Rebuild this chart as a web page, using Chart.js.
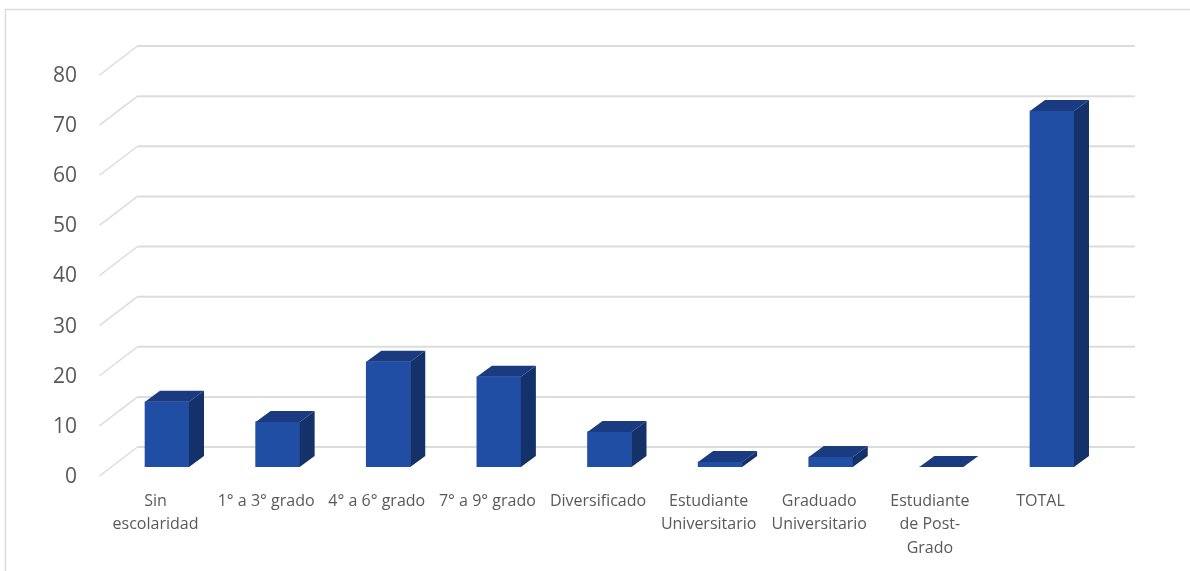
<!DOCTYPE html>
<html>
<head>
<meta charset="utf-8">
<style>
    html, body { margin: 0; padding: 0; background: #fff; }
    canvas { display: block; }
</style>
<script src="https://cdn.jsdelivr.net/npm/chart.js@4"></script>
</head>
<body>
<canvas id="chart" width="1190" height="571"></canvas>
<script>
const categories = [
    ["Sin", "escolaridad"],
    "1° a 3° grado",
    "4° a 6° grado",
    "7° a 9° grado",
    "Diversificado",
    ["Estudiante", "Universitario"],
    ["Graduado", "Universitario"],
    ["Estudiante", "de Post-", "Grado"],
    "TOTAL"
];
const values = [13, 9, 21, 18, 7, 1, 2, 0, 71];
const yTicks = [0, 10, 20, 30, 40, 50, 60, 70, 80];

const FRONT = "#214ea5";
const TOP = "#1a3b80";
const SIDE = "#14316a";
const GRID = "#dcdcdc";
const TEXT = "#595959";

// depth of one bar, and of the floor from its back edge to its front edge
const BAR_DX = 15, BAR_DY = 11;
const FLOOR_DX = 38, FLOOR_DY = 29;
// back wall sits this far above the plane the bars stand on
const WALL_LIFT = 20;
const WALL_LEFT = 137.5, WALL_RIGHT = 1135;

function poly(ctx, pts, color){
    ctx.fillStyle = color;
    ctx.beginPath();
    pts.forEach((p, i) => i ? ctx.lineTo(p[0], p[1]) : ctx.moveTo(p[0], p[1]));
    ctx.closePath();
    ctx.fill();
}

const frame = {
    id: "frame",
    beforeDraw(chart){
        const ctx = chart.ctx;
        ctx.save();
        ctx.strokeStyle = GRID;
        ctx.lineWidth = 1.5;
        ctx.beginPath();
        ctx.moveTo(5.5, chart.height);
        ctx.lineTo(5.5, 9.5);
        ctx.lineTo(chart.width, 9.5);
        ctx.stroke();
        ctx.restore();
    }
};

const walls = {
    id: "walls",
    beforeDatasetsDraw(chart){
        const ctx = chart.ctx, y = chart.scales.y;
        ctx.save();
        ctx.strokeStyle = GRID;
        for(const v of yTicks){
            const py = y.getPixelForValue(v) - WALL_LIFT;
            ctx.lineWidth = 2;
            ctx.beginPath();
            ctx.moveTo(WALL_LEFT, py);
            ctx.lineTo(WALL_RIGHT, py);
            ctx.stroke();
            ctx.lineWidth = 1.5;
            ctx.beginPath();
            ctx.moveTo(WALL_LEFT, py);
            ctx.lineTo(WALL_LEFT - FLOOR_DX, py + FLOOR_DY);
            ctx.stroke();
        }
        ctx.restore();
    }
};

// side and top faces, taken from the geometry of each bar element
const bar3d = {
    id: "bar3d",
    afterDatasetsDraw(chart){
        const ctx = chart.ctx;
        ctx.save();
        for(const bar of chart.getDatasetMeta(0).data){
            const l = bar.x - bar.width / 2, r = bar.x + bar.width / 2;
            const t = bar.y, b = bar.base;
            poly(ctx, [[r, t], [r + BAR_DX, t - BAR_DY], [r + BAR_DX, b - BAR_DY], [r, b]], SIDE);
            poly(ctx, [[l, t], [l + BAR_DX, t - BAR_DY], [r + BAR_DX, t - BAR_DY], [r, t]], TOP);
        }
        ctx.restore();
    }
};

new Chart(document.getElementById("chart").getContext("2d"), {
    type: "bar",
    data: {
        labels: categories,
        datasets: [{
            data: values,
            backgroundColor: FRONT,
            barThickness: 44
        }]
    },
    options: {
        responsive: false,
        animation: false,
        layout: { padding: { top: 66, right: 82.7, bottom: 0, left: 0 } },
        plugins: {
            legend: { display: false },
            tooltip: { enabled: false }
        },
        scales: {
            x: {
                border: { display: false },
                grid: { display: false, drawTicks: false },
                afterFit(scale){ scale.height = 104; },
                ticks: {
                    color: TEXT,
                    font: { family: "Open Sans", size: 16, lineHeight: 1.47 },
                    padding: 22.5,
                    labelOffset: -11.5,
                    maxRotation: 0,
                    autoSkip: false
                }
            },
            y: {
                min: 0,
                max: 80,
                border: { display: false },
                grid: { display: false, drawTicks: false },
                afterFit(scale){ scale.width = 111.7; },
                afterBuildTicks(scale){ scale.ticks = yTicks.map(v => ({ value: v })); },
                ticks: {
                    color: TEXT,
                    font: { family: "Open Sans", size: 21 },
                    padding: 34.7,
                    labelOffset: 10
                }
            }
        }
    },
    plugins: [frame, walls, bar3d]
});
</script>
</body>
</html>
